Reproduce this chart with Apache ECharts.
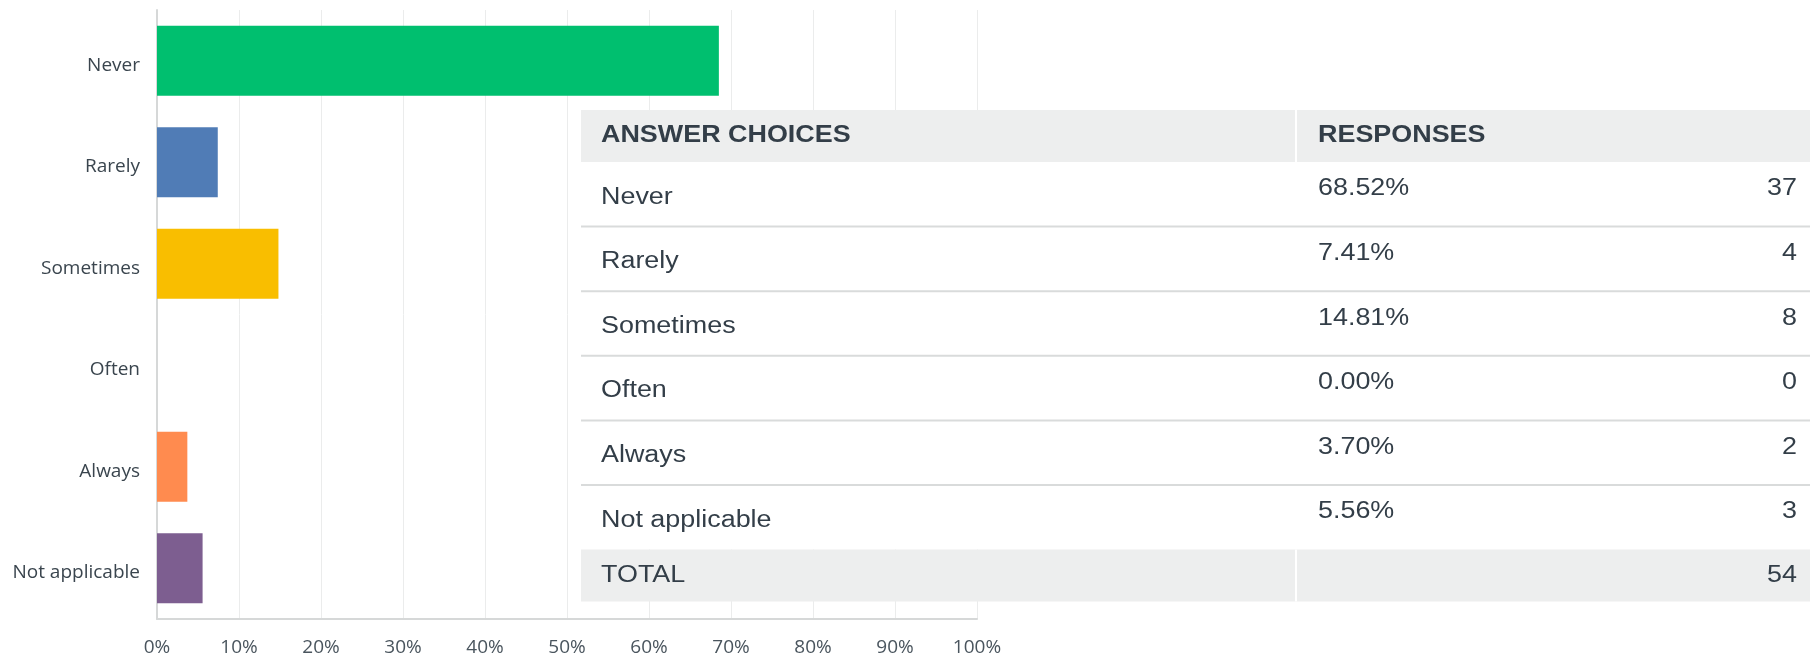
<!DOCTYPE html>
<html>
<head>
<meta charset="utf-8">
<script src="https://cdn.jsdelivr.net/npm/echarts@6/dist/echarts.min.js"></script>
<style>
html,body{margin:0;padding:0;background:#fff;}
#main{width:1810px;height:657px;}
</style>
</head>
<body>
<div id="main"></div>
<script>
// survey data
const answerChoices = ['Never', 'Rarely', 'Sometimes', 'Often', 'Always', 'Not applicable'];
const responsePercents = [68.52, 7.41, 14.81, 0.00, 3.70, 5.56];
const responseCounts = [37, 4, 8, 0, 2, 3];
const totalCount = 54;
const barColors = ['#00bf6f', '#507cb6', '#f9be00', '#6bc8cd', '#ff8b4f', '#7d5e90'];

const chart = echarts.init(document.getElementById('main'));

// table overlay (answer choices / responses)
const tbl = {
    left: 581, right: 1810, split: 1296,
    headTop: 110, headH: 52, rowH: 64.6
};
const tableFont = '"Liberation Sans", Arial, sans-serif';
const txtColor = '#333e48';
const stretch = 1.17; // text in the source is a bit wide

function cellText(text, x, y, bold, align) {
    return {
        type: 'text', x: x, y: y, scaleX: stretch,
        style: {
            text: text, x: 0, y: 0, fill: txtColor,
            font: (bold ? 'bold ' : '') + '23px ' + tableFont,
            align: align || 'left', verticalAlign: 'middle'
        }
    };
}

function buildTable() {
    const els = [];
    const bodyTop = tbl.headTop + tbl.headH;
    const totalTop = bodyTop + tbl.rowH * answerChoices.length;
    const w = tbl.right - tbl.left;
    // header bg
    els.push({type: 'rect', shape: {x: tbl.left, y: tbl.headTop, width: w, height: tbl.headH}, style: {fill: '#edeeee'}});
    // body bg
    els.push({type: 'rect', shape: {x: tbl.left, y: bodyTop, width: w, height: totalTop - bodyTop}, style: {fill: '#ffffff'}});
    // total bg
    els.push({type: 'rect', shape: {x: tbl.left, y: totalTop, width: w, height: tbl.headH}, style: {fill: '#edeeee'}});
    // white dividers in header and total
    els.push({type: 'rect', shape: {x: tbl.split - 1, y: tbl.headTop, width: 2, height: tbl.headH}, style: {fill: '#ffffff'}});
    els.push({type: 'rect', shape: {x: tbl.split - 1, y: totalTop, width: 2, height: tbl.headH}, style: {fill: '#ffffff'}});

    els.push(cellText('ANSWER CHOICES', tbl.left + 20, tbl.headTop + tbl.headH / 2, true));
    els.push(cellText('RESPONSES', tbl.split + 22, tbl.headTop + tbl.headH / 2, true));

    answerChoices.forEach((name, i) => {
        const y0 = bodyTop + i * tbl.rowH;
        if (i < answerChoices.length - 1) {
            els.push({type: 'rect', shape: {x: tbl.left, y: y0 + tbl.rowH - 1, width: w, height: 2}, style: {fill: '#d9dbdb'}});
        }
        els.push(cellText(name, tbl.left + 20, y0 + tbl.rowH / 2 + 3));
        els.push(cellText(responsePercents[i].toFixed(2) + '%', tbl.split + 22, y0 + 27));
        els.push(cellText(String(responseCounts[i]), tbl.right - 13, y0 + 27, false, 'right'));
    });

    els.push(cellText('TOTAL', tbl.left + 20, totalTop + tbl.headH / 2));
    els.push(cellText(String(totalCount), tbl.right - 13, totalTop + tbl.headH / 2, false, 'right'));
    return els;
}

const option = {
    animation: false,
    grid: {left: 157, right: 833, top: 10, bottom: 37, containLabel: false},
    xAxis: {
        type: 'value',
        min: 0,
        max: 100,
        interval: 10,
        axisLine: {show: true, lineStyle: {color: '#d6d8d8', width: 2}},
        axisTick: {show: false},
        splitLine: {show: true, lineStyle: {color: '#ebecec', width: 1}},
        axisLabel: {
            formatter: '{value}%',
            color: '#4a555e',
            fontSize: 19,
            fontFamily: 'Open Sans',
            margin: 19
        }
    },
    yAxis: {
        type: 'category',
        inverse: true,
        data: answerChoices,
        axisLine: {show: true, lineStyle: {color: '#d6d8d8', width: 2}},
        axisTick: {show: false},
        axisLabel: {
            color: '#3a454e',
            fontSize: 19,
            fontFamily: 'Open Sans',
            margin: 17,
            formatter: '{a|{value}}',
            rich: {a: {padding: [9, 0, 0, 0], fontSize: 19, fontFamily: 'Open Sans', color: '#3a454e'}}
        }
    },
    series: [{
        type: 'bar',
        data: responsePercents.map((v, i) => ({value: v, itemStyle: {color: barColors[i]}})),
        barCategoryGap: '31%'
    }],
    graphic: {elements: buildTable().map(e => Object.assign({z: 100}, e))}
};

chart.setOption(option);
</script>
</body>
</html>
